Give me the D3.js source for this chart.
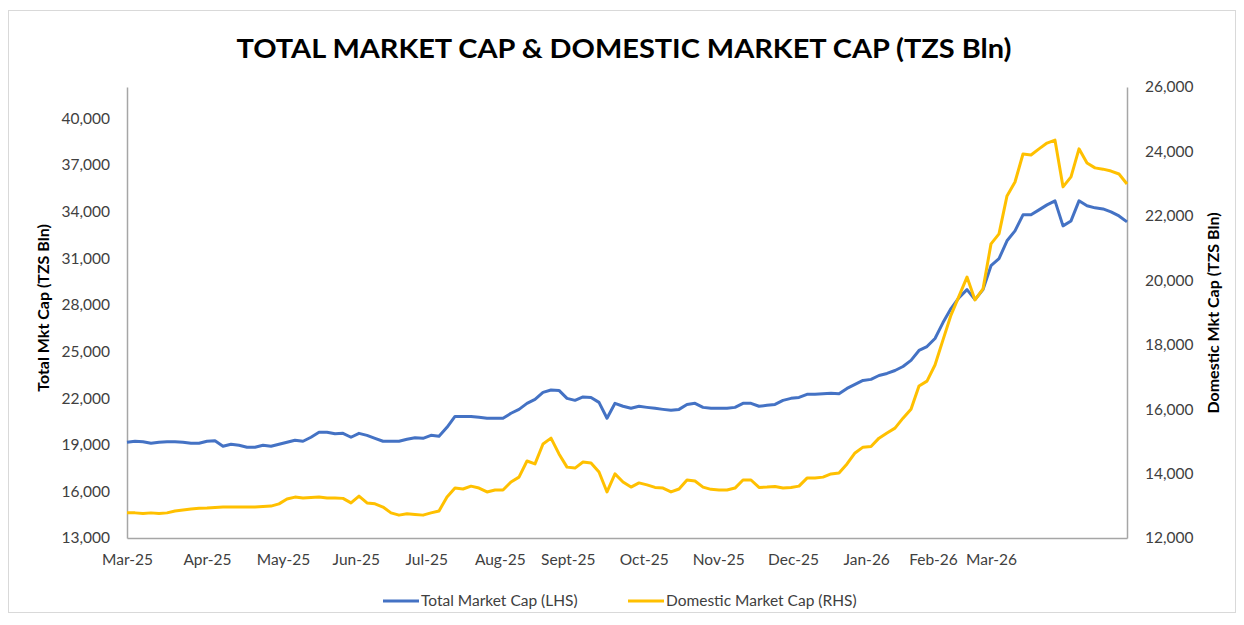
<!DOCTYPE html>
<html>
<head>
<meta charset="utf-8">
<script src="https://cdn.jsdelivr.net/npm/d3@7"></script>
<style>
  body { margin: 0; background: #fff; }
  svg { display: block; font-family: Lato, "Open Sans", sans-serif; }
</style>
</head>
<body>
<svg id="chart" width="1244" height="625"></svg>
<script>
// month labels and where they sit along the series (index units)
var monthLabels = ["Mar-25", "Apr-25", "May-25", "Jun-25", "Jul-25", "Aug-25", "Sept-25",
  "Oct-25", "Nov-25", "Dec-25", "Jan-26", "Feb-26", "Mar-26"];
var monthPos = [0, 10, 19.5, 28.6, 37.4, 46.6, 55.1, 64.6, 73.9, 83.25, 92.4, 100.75, 108];

// Total market cap, TZS Bln (left axis)
var totalCap = [
  19160, 19220, 19190, 19090, 19160, 19190, 19190, 19160, 19090, 19090,
  19220, 19250, 18900, 19030, 18960, 18840, 18840, 18960, 18900, 19030,
  19160, 19285, 19220, 19480, 19800, 19800, 19700, 19730, 19480, 19730,
  19600, 19410, 19220, 19220, 19220, 19350, 19450, 19410, 19600, 19540,
  20120, 20820, 20820, 20820, 20760, 20700, 20700, 20700, 21020, 21270,
  21660, 21910, 22360, 22520, 22490, 21980, 21850, 22070, 22040, 21720,
  20700, 21660, 21470, 21340, 21470, 21400, 21340, 21270, 21210, 21270,
  21590, 21660, 21400, 21340, 21340, 21340, 21400, 21660, 21660, 21470,
  21530, 21590, 21850, 21980, 22040, 22240, 22240, 22270, 22300, 22270,
  22620, 22880, 23130, 23200, 23450, 23580, 23770, 24030, 24420, 25060,
  25310, 25830, 26850, 27750, 28460, 28970, 28330, 28970, 30510, 30960,
  32110, 32750, 33780, 33780, 34100, 34420, 34680, 33070, 33390, 34680,
  34360, 34230, 34160, 33970, 33710, 33330
];

// Domestic market cap, TZS Bln (right axis)
var domesticCap = [
  12780, 12780, 12760, 12780, 12760, 12780, 12840, 12870, 12900, 12920,
  12930, 12950, 12960, 12960, 12960, 12960, 12960, 12980, 12990, 13060,
  13210, 13270, 13240, 13260, 13270, 13240, 13240, 13230, 13090, 13300,
  13090, 13060, 12960, 12780, 12710, 12750, 12730, 12710, 12780, 12840,
  13270, 13550, 13520, 13610, 13550, 13430, 13490, 13490, 13740, 13890,
  14390, 14300, 14920, 15100, 14610, 14200, 14170, 14360, 14330, 14050,
  13430, 13990, 13740, 13580, 13710, 13650, 13570, 13550, 13430, 13520,
  13800, 13770, 13580, 13510, 13490, 13490, 13550, 13800, 13800, 13570,
  13580, 13600, 13550, 13570, 13610, 13860, 13860, 13890, 13990, 14020,
  14300, 14640, 14820, 14840, 15100, 15260, 15410, 15720, 16000, 16720,
  16870, 17370, 18150, 18920, 19510, 20100, 19390, 19730, 21130, 21440,
  22620, 23050, 23920, 23890, 24080, 24260, 24350, 22900, 23210, 24080,
  23640, 23490, 23450, 23390, 23300, 22990
];

var leftTicks = d3.range(13000, 42001, 3000);
var rightTicks = d3.range(12000, 26001, 2000);

var svg = d3.select("#chart");
var plot = { left: 127, right: 1127, top: 87, bottom: 538 };

// outer frame
svg.append("rect")
  .attr("x", 8.5).attr("y", 10.5)
  .attr("width", 1227).attr("height", 602)
  .attr("fill", "none")
  .attr("stroke", "#d9d9d9");

svg.append("text")
  .attr("x", 624).attr("y", 58)
  .attr("text-anchor", "middle")
  .attr("font-size", 27)
  .attr("font-weight", "bold")
  .attr("fill", "#000")
  .attr("textLength", 775)
  .attr("lengthAdjust", "spacingAndGlyphs")
  .text("TOTAL MARKET CAP & DOMESTIC MARKET CAP (TZS Bln)");

var x = d3.scaleLinear()
  .domain([0, totalCap.length - 1])
  .range([plot.left, plot.right]);

var yL = d3.scaleLinear().domain([13000, 42000]).range([plot.bottom, plot.top]);
var yR = d3.scaleLinear().domain([12000, 26000]).range([plot.bottom, plot.top]);

function styleAxis(g) {
  g.select(".domain").attr("stroke", "#a6a6a6").attr("stroke-width", 1.5);
  g.selectAll("text")
    .attr("font-family", "Lato, sans-serif")
    .attr("font-size", 15.5)
    .attr("fill", "#404040");
}

svg.append("g")
  .attr("transform", "translate(" + plot.left + ",0)")
  .call(d3.axisLeft(yL).tickValues(leftTicks).tickFormat(d3.format(",")).tickSize(0).tickPadding(17))
  .call(styleAxis);

svg.append("g")
  .attr("transform", "translate(" + plot.right + ",0)")
  .call(d3.axisRight(yR).tickValues(rightTicks).tickFormat(d3.format(",")).tickSize(0).tickPadding(18))
  .call(styleAxis);

svg.append("g")
  .attr("transform", "translate(0," + plot.bottom + ")")
  .call(d3.axisBottom(x).tickValues(monthPos).tickFormat(function (d, i) { return monthLabels[i]; }).tickSize(0).tickPadding(16))
  .call(styleAxis);

// axis titles
svg.append("text")
  .attr("transform", "translate(49,308) rotate(-90)")
  .attr("text-anchor", "middle")
  .attr("font-size", 16)
  .attr("font-weight", "bold")
  .attr("fill", "#000")
  .text("Total Mkt Cap (TZS Bln)");

svg.append("text")
  .attr("transform", "translate(1219,313) rotate(-90)")
  .attr("text-anchor", "middle")
  .attr("font-size", 16)
  .attr("font-weight", "bold")
  .attr("fill", "#000")
  .text("Domestic Mkt Cap (TZS Bln)");

var lineL = d3.line().x(function (d, i) { return x(i); }).y(function (d) { return yL(d); });
var lineR = d3.line().x(function (d, i) { return x(i); }).y(function (d) { return yR(d); });

svg.append("path")
  .datum(totalCap)
  .attr("fill", "none")
  .attr("stroke", "#4472C4")
  .attr("stroke-width", 3)
  .attr("stroke-linejoin", "round")
  .attr("d", lineL);

svg.append("path")
  .datum(domesticCap)
  .attr("fill", "none")
  .attr("stroke", "#FFC000")
  .attr("stroke-width", 3)
  .attr("stroke-linejoin", "round")
  .attr("d", lineR);

// legend
var legend = [
  { name: "Total Market Cap (LHS)", color: "#4472C4", x: 383 },
  { name: "Domestic Market Cap (RHS)", color: "#FFC000", x: 628 }
];
var lg = svg.append("g").selectAll("g")
  .data(legend)
  .join("g")
  .attr("transform", function (d) { return "translate(" + d.x + ",601)"; });
lg.append("line")
  .attr("x1", 0).attr("x2", 36)
  .attr("stroke", function (d) { return d.color; })
  .attr("stroke-width", 3);
lg.append("text")
  .attr("x", 38).attr("dy", "0.35em")
  .attr("font-size", 15.5)
  .attr("fill", "#404040")
  .text(function (d) { return d.name; });
</script>
</body>
</html>
